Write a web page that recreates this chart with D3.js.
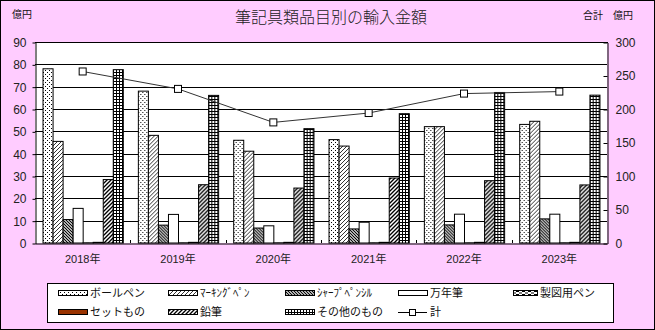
<!DOCTYPE html>
<html>
<head>
<meta charset="utf-8">
<script src="https://cdn.jsdelivr.net/npm/d3@7"></script>
<style>
  html, body { margin: 0; padding: 0; background: #fff; }
  svg { display: block; }
</style>
</head>
<body>
<svg id="chart" width="655" height="330"></svg>
<script>
// 年別カテゴリ
const years = ["2018年", "2019年", "2020年", "2021年", "2022年", "2023年"];

// 品目名(凡例表記)
const seriesNames = ["ボールペン", "ﾏｰｷﾝｸﾞﾍﾟﾝ", "ｼｬｰﾌﾟﾍﾟﾝｼﾙ", "万年筆", "製図用ペン", "セットもの", "鉛筆", "その他のもの"];

// 品目別輸入金額(億円)
const ballpen   = [78.0, 68.0, 46.0, 46.3, 52.1, 53.1];
const marking   = [45.5, 48.2, 41.1, 43.4, 52.1, 54.5];
const sharp     = [10.5, 8.0, 6.7, 6.3, 8.1, 10.8];
const fountain  = [15.5, 12.8, 7.7, 9.3, 12.9, 12.9];
const drafting  = [0.1, 0.1, 0.1, 0.1, 0.1, 0.1];
const setItems  = [0.3, 0.3, 0.3, 0.3, 0.3, 0.3];
const pencil    = [28.4, 26.1, 24.6, 29.1, 27.9, 26.0];
const others    = [77.6, 66.1, 51.2, 57.9, 67.4, 66.2];

// 合計(億円、右軸)
const total = [256, 230, 180, 194, 223, 226];

// 軸目盛
const leftTicks = [0, 10, 20, 30, 40, 50, 60, 70, 80, 90];
const rightTicks = [0, 50, 100, 150, 200, 250, 300];

const seriesValues = [ballpen, marking, sharp, fountain, drafting, setItems, pencil, others];
const seriesFill = ["url(#pDots)", "url(#pDiagLight)", "url(#pBackDense)", "#ffffff",
                    "url(#pDash)", "#993300", "url(#pDiagBold)", "url(#pGrid)"];

const svg = d3.select("#chart");
const W = 655, H = 330;
const plot = { left: 35, right: 607, top: 42, bottom: 243 };

// 背景
svg.append("rect").attr("x", 0.5).attr("y", 0.5).attr("width", W - 1).attr("height", H - 1)
  .attr("fill", "#ffccff").attr("stroke", "#000").attr("stroke-width", 1);

// 塗りパターン
const defs = svg.append("defs");
function pattern(id, w, h) {
  const p = defs.append("pattern").attr("id", id).attr("patternUnits", "userSpaceOnUse")
    .attr("width", w).attr("height", h);
  p.append("rect").attr("width", w).attr("height", h).attr("fill", "#fff");
  return p;
}
// 点描
let p = pattern("pDots", 4, 4);
p.append("rect").attr("x", 0).attr("y", 0).attr("width", 1).attr("height", 1).attr("fill", "#000");
p.append("rect").attr("x", 2).attr("y", 2).attr("width", 1).attr("height", 1).attr("fill", "#000");
// 細い右上がり斜線
p = pattern("pDiagLight", 4, 4);
p.append("path").attr("d", "M-1,1 L1,-1 M0,4 L4,0 M3,5 L5,3").attr("stroke", "#000").attr("stroke-width", 0.8);
// 密な右下がり斜線
p = pattern("pBackDense", 3, 3);
p.append("path").attr("d", "M-1,-1 L4,4 M-1,2 L1,4 M2,-1 L4,1").attr("stroke", "#000").attr("stroke-width", 1.2);
// 太い右上がり斜線
p = pattern("pDiagBold", 4, 4);
p.append("path").attr("d", "M-1,1 L1,-1 M0,4 L4,0 M3,5 L5,3").attr("stroke", "#000").attr("stroke-width", 1.35);
// 格子
p = pattern("pGrid", 3, 3);
p.append("path").attr("d", "M0,0.5 L3,0.5 M0.5,0 L0.5,3").attr("stroke", "#000").attr("stroke-width", 1);
// 破線
p = pattern("pDash", 6, 3);
p.append("path").attr("d", "M0,0.5 L3,0.5 M3,2 L6,2").attr("stroke", "#000").attr("stroke-width", 1);

// 軸スケール
const x0 = d3.scaleBand().domain(years).range([plot.left, plot.right]).paddingInner(0).paddingOuter(0);
const x1 = d3.scaleBand().domain(seriesNames).range([0, x0.bandwidth()]).paddingInner(0).paddingOuter(0.75);
const yL = d3.scaleLinear().domain([0, 90]).range([plot.bottom, plot.top]);
const yR = d3.scaleLinear().domain([0, 300]).range([plot.bottom, plot.top]);

// プロットエリア
svg.append("rect").attr("x", plot.left).attr("y", plot.top)
  .attr("width", plot.right - plot.left).attr("height", plot.bottom - plot.top).attr("fill", "#fff");

// 目盛線
svg.append("g").selectAll("line").data(leftTicks.slice(1)).join("line")
  .attr("x1", plot.left).attr("x2", plot.right)
  .attr("y1", d => Math.round(yL(d)) + 0.5).attr("y2", d => Math.round(yL(d)) + 0.5)
  .attr("stroke", "#000").attr("stroke-width", 1);

// 棒
const groups = svg.append("g").selectAll("g").data(years).join("g")
  .attr("transform", d => `translate(${x0(d)},0)`);
groups.selectAll("rect").data((d, i) => seriesNames.map((s, k) => ({ s, k, v: seriesValues[k][i] })))
  .join("rect")
  .attr("x", d => x1(d.s) + 0.5)
  .attr("y", d => yL(d.v))
  .attr("width", x1.bandwidth())
  .attr("height", d => plot.bottom - yL(d.v))
  .attr("fill", d => seriesFill[d.k])
  .attr("stroke", "#000").attr("stroke-width", 1);

// 合計の折れ線
const lineGen = d3.line().x((d, i) => x0(years[i]) + x0.bandwidth() / 2).y(d => yR(d));
svg.append("path").datum(total).attr("d", lineGen)
  .attr("fill", "none").attr("stroke", "#333").attr("stroke-width", 1);
svg.append("g").selectAll("rect").data(total).join("rect")
  .attr("x", (d, i) => x0(years[i]) + x0.bandwidth() / 2 - 3.5)
  .attr("y", d => yR(d) - 3.5)
  .attr("width", 7).attr("height", 7)
  .attr("fill", "#fff").attr("stroke", "#000").attr("stroke-width", 1);

// 左軸
const axL = svg.append("g").attr("transform", `translate(${plot.left + 0.5},0.5)`)
  .call(d3.axisLeft(yL).tickValues(leftTicks).tickSize(3).tickSizeOuter(0).tickPadding(6));
// 右軸
const axR = svg.append("g").attr("transform", `translate(${plot.right + 0.5},0.5)`)
  .call(d3.axisRight(yR).tickValues(rightTicks).tickSize(-4).tickSizeOuter(0).tickPadding(8));
[axL, axR].forEach(a => {
  a.select(".domain").attr("stroke", "#000");
  a.selectAll(".tick line").attr("stroke", "#000");
  a.selectAll(".tick text").attr("fill", "#222")
    .style("font-family", "'Liberation Sans', Arial, sans-serif").style("font-size", "12px");
});

// 下軸
const axB = svg.append("g").attr("transform", `translate(0,${plot.bottom + 0.5})`)
  .call(d3.axisBottom(x0).tickSize(0).tickSizeOuter(0).tickPadding(12));
axB.select(".domain").attr("stroke", "#000");
axB.selectAll(".tick text").attr("fill", "#222")
  .style("font-family", "'Liberation Sans', 'Noto Sans CJK JP', sans-serif").style("font-size", "11px");
// 区切り目盛(内向き)
svg.append("g").selectAll("line").data(years.slice(1)).join("line")
  .attr("x1", d => Math.round(x0(d)) + 0.5).attr("x2", d => Math.round(x0(d)) + 0.5)
  .attr("y1", plot.bottom - 3).attr("y2", plot.bottom)
  .attr("stroke", "#000");

// 上枠
svg.append("line").attr("x1", plot.left).attr("x2", plot.right + 1)
  .attr("y1", plot.top + 0.5).attr("y2", plot.top + 0.5).attr("stroke", "#000");

// タイトル・単位
const jp = "'Noto Sans CJK JP', sans-serif";
svg.append("text").attr("x", 331).attr("y", 23).attr("text-anchor", "middle")
  .style("font-family", jp).style("font-size", "16px").style("font-weight", 300).attr("fill", "#222")
  .text("筆記具類品目別の輸入金額");
svg.append("text").attr("x", 12).attr("y", 18)
  .style("font-family", jp).style("font-size", "10px").attr("fill", "#111").text("億円");
svg.append("text").attr("x", 583).attr("y", 19)
  .style("font-family", jp).style("font-size", "10px").attr("fill", "#111").text("合計　億円");

// 凡例
const lg = svg.append("g");
lg.append("rect").attr("x", 47.5).attr("y", 283.5).attr("width", 566).attr("height", 39)
  .attr("fill", "#fff").attr("stroke", "#000");
const colX = [58, 168, 285, 398, 513];
const colW = [29, 29, 29, 29, 24];
const rowY = [293, 312];
const legendItems = seriesNames.map((s, k) => ({ label: s, fill: seriesFill[k], type: "bar" }));
legendItems.push({ label: "計", type: "line" });
legendItems.forEach((it, i) => {
  const col = i % 5, row = Math.floor(i / 5);
  const gx = colX[col], gy = rowY[row], sw = colW[col];
  if (it.type === "bar") {
    lg.append("rect").attr("x", gx + 0.5).attr("y", gy - 2.5).attr("width", sw).attr("height", 5)
      .attr("fill", it.fill).attr("stroke", "#000");
  } else {
    lg.append("line").attr("x1", gx).attr("x2", gx + sw).attr("y1", gy + 0.5).attr("y2", gy + 0.5)
      .attr("stroke", "#000");
    lg.append("rect").attr("x", gx + sw / 2 - 3).attr("y", gy - 2.5).attr("width", 6).attr("height", 6)
      .attr("fill", "#fff").attr("stroke", "#000");
  }
  lg.append("text").attr("x", gx + sw + 3).attr("y", gy + 4)
    .style("font-family", jp).style("font-size", "11px").attr("fill", "#111").text(it.label);
});
</script>
</body>
</html>
